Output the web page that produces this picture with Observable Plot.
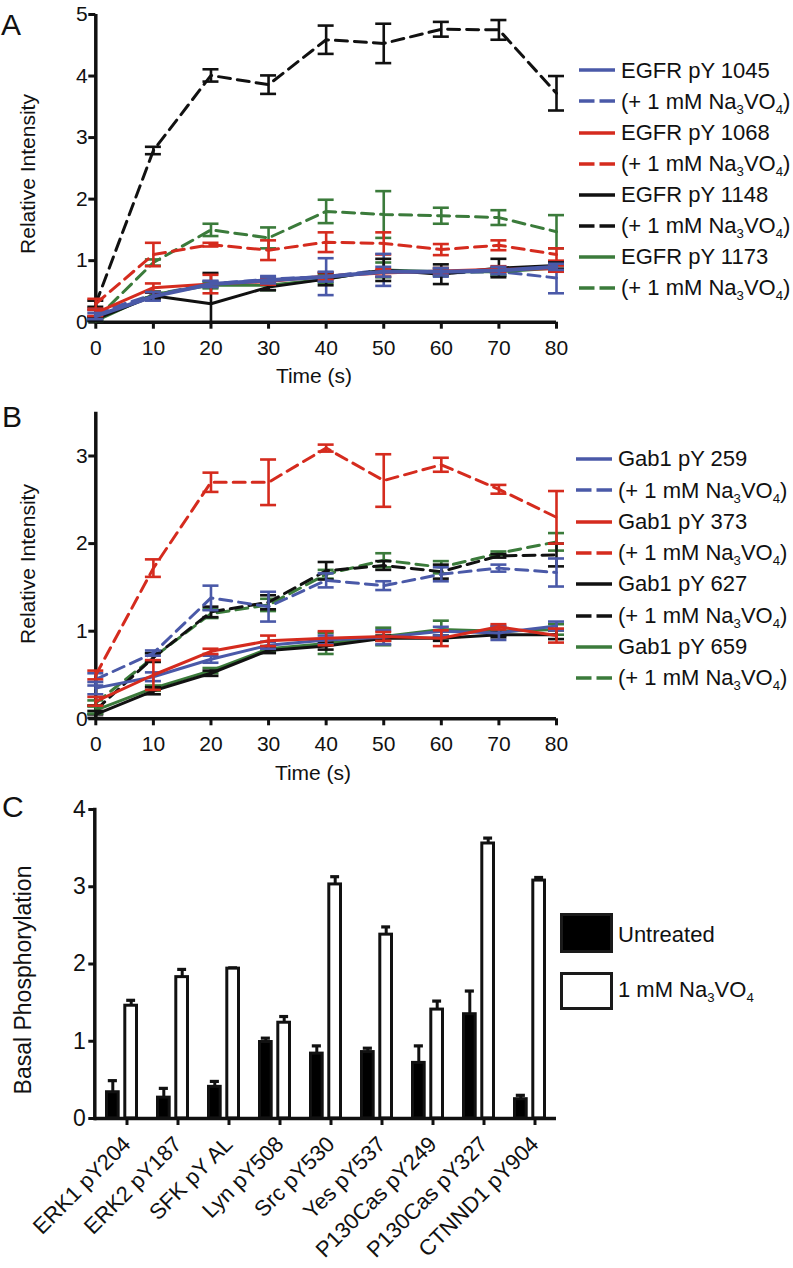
<!DOCTYPE html>
<html><head><meta charset="utf-8">
<script src="https://cdn.jsdelivr.net/npm/d3@7"></script>
<script src="https://cdn.jsdelivr.net/npm/@observablehq/plot@0.6"></script>
<style>
html,body{margin:0;padding:0;background:#fff;}
#fig{position:relative;width:793px;height:1268px;overflow:hidden;font-family:"Liberation Sans",Arial,Helvetica,sans-serif;color:#111;}
.abs{position:absolute;white-space:nowrap;}
sub{font-size:0.6em;vertical-align:-0.4em;line-height:0;}
</style></head><body><div id="fig"></div>
<script>
const FONT = '"Liberation Sans", Arial, Helvetica, sans-serif';
const fig = document.getElementById("fig");

// ---------- shared ----------
const times = [0, 10, 20, 30, 40, 50, 60, 70, 80];
const yTicksA = [0, 1, 2, 3, 4, 5];
const yTicksB = [0, 1, 2, 3];
const yTicksC = [0, 1, 2, 3, 4];
const colBlue = "#4a59a8", colRed = "#d52b1e", colBlack = "#111111", colGreen = "#3b7b3b";

// ---------- Panel A (EGFR) ----------
const legendA = ["EGFR pY 1045", "(+ 1 mM Na<sub>3</sub>VO<sub>4</sub>)", "EGFR pY 1068", "(+ 1 mM Na<sub>3</sub>VO<sub>4</sub>)",
                 "EGFR pY 1148", "(+ 1 mM Na<sub>3</sub>VO<sub>4</sub>)", "EGFR pY 1173", "(+ 1 mM Na<sub>3</sub>VO<sub>4</sub>)"];
const a1045   = [0.10, 0.42, 0.62, 0.68, 0.74, 0.82, 0.82, 0.84, 0.90];
const a1045e  = [0.05, 0.07, 0.05, 0.05, 0.08, 0.08, 0.06, 0.06, 0.05];
const a1045V  = [0.15, 0.45, 0.62, 0.70, 0.74, 0.85, 0.80, 0.82, 0.72];
const a1045Ve = [0.05, 0.05, 0.05, 0.05, 0.30, 0.26, 0.06, 0.06, 0.25];
const a1068   = [0.15, 0.56, 0.62, 0.66, 0.75, 0.80, 0.83, 0.86, 0.87];
const a1068e  = [0.05, 0.07, 0.15, 0.05, 0.06, 0.06, 0.05, 0.05, 0.05];
const a1068V  = [0.30, 1.10, 1.26, 1.17, 1.30, 1.28, 1.18, 1.25, 1.10];
const a1068Ve = [0.08, 0.19, 0.03, 0.16, 0.16, 0.18, 0.09, 0.08, 0.10];
const a1148   = [0.05, 0.43, 0.30, 0.57, 0.70, 0.85, 0.78, 0.88, 0.92];
const a1148e  = [0.03, 0.05, 0.50, 0.05, 0.10, 0.18, 0.16, 0.15, 0.05];
const a1148V  = [0.30, 2.79, 4.01, 3.86, 4.59, 4.53, 4.76, 4.75, 3.72];
const a1148Ve = [0.05, 0.06, 0.10, 0.15, 0.23, 0.32, 0.12, 0.16, 0.28];
const a1173   = [0.02, 0.45, 0.60, 0.60, 0.70, 0.85, 0.82, 0.82, 0.88];
const a1173e  = [0.02, 0.05, 0.05, 0.08, 0.06, 0.12, 0.06, 0.06, 0.05];
const a1173V  = [0.05, 0.97, 1.50, 1.37, 1.80, 1.75, 1.73, 1.70, 1.47];
const a1173Ve = [0.03, 0.05, 0.10, 0.17, 0.19, 0.38, 0.13, 0.12, 0.27];

// ---------- Panel B (Gab1) ----------
const legendB = ["Gab1 pY 259", "(+ 1 mM Na<sub>3</sub>VO<sub>4</sub>)", "Gab1 pY 373", "(+ 1 mM Na<sub>3</sub>VO<sub>4</sub>)",
                 "Gab1 pY 627", "(+ 1 mM Na<sub>3</sub>VO<sub>4</sub>)", "Gab1 pY 659", "(+ 1 mM Na<sub>3</sub>VO<sub>4</sub>)"];
const b259   = [0.35, 0.48, 0.68, 0.84, 0.90, 0.93, 1.00, 0.98, 1.06];
const b259e  = [0.07, 0.05, 0.04, 0.04, 0.05, 0.08, 0.05, 0.08, 0.05];
const b259V  = [0.45, 0.75, 1.38, 1.28, 1.58, 1.52, 1.65, 1.72, 1.67];
const b259Ve = [0.07, 0.03, 0.14, 0.17, 0.08, 0.05, 0.08, 0.04, 0.16];
const b373   = [0.20, 0.50, 0.77, 0.89, 0.92, 0.94, 0.92, 1.05, 0.95];
const b373e  = [0.05, 0.17, 0.03, 0.06, 0.08, 0.05, 0.09, 0.03, 0.08];
const b373V  = [0.50, 1.72, 2.70, 2.70, 3.09, 2.72, 2.90, 2.62, 2.30];
const b373Ve = [0.05, 0.10, 0.11, 0.26, 0.04, 0.30, 0.08, 0.05, 0.30];
const b627   = [0.05, 0.32, 0.52, 0.78, 0.83, 0.92, 0.92, 0.96, 0.96];
const b627e  = [0.04, 0.04, 0.03, 0.03, 0.04, 0.03, 0.03, 0.03, 0.05];
const b627V  = [0.10, 0.70, 1.22, 1.33, 1.69, 1.75, 1.68, 1.86, 1.87];
const b627Ve = [0.05, 0.05, 0.06, 0.08, 0.10, 0.05, 0.08, 0.02, 0.13];
const b659   = [0.10, 0.35, 0.55, 0.80, 0.86, 0.94, 1.02, 1.00, 1.02];
const b659e  = [0.04, 0.03, 0.03, 0.03, 0.12, 0.10, 0.10, 0.05, 0.06];
const b659V  = [0.18, 0.70, 1.20, 1.30, 1.65, 1.81, 1.73, 1.89, 2.02];
const b659Ve = [0.03, 0.05, 0.05, 0.07, 0.05, 0.08, 0.07, 0.02, 0.10];

// ---------- Panel C (basal) ----------
const cats = ["ERK1 pY204", "ERK2 pY187", "SFK pY AL", "Lyn pY508", "Src pY530", "Yes pY537", "P130Cas pY249", "P130Cas pY327", "CTNND1 pY904"];
const untreated    = [0.34, 0.27, 0.41, 0.99, 0.84, 0.86, 0.72, 1.35, 0.25];
const untreatedErr = [0.15, 0.12, 0.07, 0.05, 0.10, 0.05, 0.22, 0.30, 0.05];
const vanadate     = [1.46, 1.83, 1.94, 1.24, 3.03, 2.38, 1.41, 3.56, 3.08];
const vanadateErr  = [0.07, 0.10, 0.01, 0.08, 0.10, 0.10, 0.11, 0.07, 0.04];
const legendC = ["Untreated", "1 mM Na<sub>3</sub>VO<sub>4</sub>"];

// ---------- helpers ----------
const intFmt = d => String(d);
function rows(vals, errs) { return times.map((t, i) => ({t, v: vals[i], e: errs[i]})); }

function series(vals, errs, color, dashed, lw = 3) {
  const d = rows(vals, errs);
  const lo = d.filter(r => r.v - r.e > 0);
  const ew = 2.6;
  const lineOpts = {x: "t", y: "v", stroke: color, strokeWidth: lw, strokeLinejoin: "round"};
  if (dashed) lineOpts.strokeDasharray = "12,7";
  return [
    Plot.ruleX(d, {x: "t", y1: r => Math.max(0, r.v - r.e), y2: r => r.v + r.e, stroke: color, strokeWidth: ew}),
    Plot.ruleY(d, {x1: "t", x2: "t", y: r => r.v + r.e, stroke: color, strokeWidth: ew, insetLeft: -8, insetRight: -8}),
    Plot.ruleY(lo, {x1: "t", x2: "t", y: r => r.v - r.e, stroke: color, strokeWidth: ew, insetLeft: -8, insetRight: -8}),
    Plot.line(d, lineOpts)
  ];
}

function place(svg, left, top) {
  svg.style.position = "absolute";
  svg.style.left = left + "px";
  svg.style.top = top + "px";
  svg.style.maxWidth = "none";
  fig.appendChild(svg);
}

function text(html, x, baseline, size, opts = {}) {
  const el = document.createElement("div");
  el.className = "abs";
  el.innerHTML = html;
  el.style.fontSize = size + "px";
  el.style.lineHeight = size + "px";
  el.style.left = x + "px";
  el.style.top = (baseline - 0.8465 * size) + "px";
  if (opts.center) el.style.transform = "translateX(-50%)";
  fig.appendChild(el);
  return el;
}

function vtext(html, cx, cy, size) {
  const el = document.createElement("div");
  el.className = "abs";
  el.innerHTML = html;
  el.style.fontSize = size + "px";
  el.style.lineHeight = size + "px";
  el.style.left = cx + "px";
  el.style.top = cy + "px";
  el.style.transform = "translate(-50%,-50%) rotate(-90deg)";
  fig.appendChild(el);
}

function lineLegend(labels, colors, yStart, step, lx1, lx2, tx, size) {
  labels.forEach((lab, i) => {
    const yc = yStart + i * step;
    const dashed = i % 2 === 1;
    const color = colors[Math.floor(i / 2)];
    const w = lx2 - lx1;
    const s = document.createElementNS("http://www.w3.org/2000/svg", "svg");
    s.setAttribute("width", w); s.setAttribute("height", 8);
    s.style.position = "absolute"; s.style.left = lx1 + "px"; s.style.top = (yc - 4) + "px";
    s.innerHTML = `<line x1="0" x2="${w}" y1="4" y2="4" stroke="${color}" stroke-width="3.5" ${dashed ? 'stroke-dasharray="15.5,5"' : ''}/>`;
    fig.appendChild(s);
    const el = document.createElement("div");
    el.className = "abs";
    el.innerHTML = lab;
    el.style.fontSize = size + "px";
    el.style.lineHeight = size + "px";
    el.style.left = tx + "px";
    el.style.top = (yc - 0.488 * size) + "px";
    fig.appendChild(el);
  });
}

const baseStyle = {fontFamily: FONT, fontSize: "21px", color: "#111", overflow: "visible", background: "transparent"};

// ---------- Panel A plot ----------
const plotA = Plot.plot({
  width: 575, height: 400,
  marginLeft: 95.3, marginRight: 19, marginTop: 14, marginBottom: 78.3,
  x: {domain: [0, 80]},
  y: {domain: [0, 5]},
  style: baseStyle,
  marks: [
    Plot.axisX({ticks: times, tickFormat: intFmt, tickSize: 7, tickPadding: 11, label: null, strokeWidth: 3, fontSize: 21}),
    Plot.axisY({ticks: yTicksA, tickFormat: intFmt, tickSize: 7, tickPadding: 1, label: null, strokeWidth: 3, fontSize: 21}),
    Plot.ruleY([0], {stroke: "#111", strokeWidth: 3.5}),
    Plot.ruleX([0], {stroke: "#111", strokeWidth: 3.5}),
    ...series(a1148V, a1148Ve, colBlack, true),
    ...series(a1173V, a1173Ve, colGreen, true),
    ...series(a1068V, a1068Ve, colRed, true),
    ...series(a1045V, a1045Ve, colBlue, true),
    ...series(a1173, a1173e, colGreen, false),
    ...series(a1148, a1148e, colBlack, false),
    ...series(a1068, a1068e, colRed, false),
    ...series(a1045, a1045e, colBlue, false, 4)
  ]
});
place(plotA, 0, 0);

// ---------- Panel B plot ----------
const plotB = Plot.plot({
  width: 575, height: 400,
  marginLeft: 95.3, marginRight: 19, marginTop: 21.7, marginBottom: 71.7,
  x: {domain: [0, 80]},
  y: {domain: [0, 3.5]},
  style: baseStyle,
  marks: [
    Plot.axisX({ticks: times, tickFormat: intFmt, tickSize: 7, tickPadding: 10, label: null, strokeWidth: 3, fontSize: 21}),
    Plot.axisY({ticks: yTicksB, tickFormat: intFmt, tickSize: 7, tickPadding: 1, label: null, strokeWidth: 3, fontSize: 21}),
    Plot.ruleY([0], {stroke: "#111", strokeWidth: 3.5}),
    Plot.ruleX([0], {stroke: "#111", strokeWidth: 3.5}),
    ...series(b659V, b659Ve, colGreen, true),
    ...series(b627V, b627Ve, colBlack, true),
    ...series(b259V, b259Ve, colBlue, true),
    ...series(b373V, b373Ve, colRed, true),
    ...series(b659, b659e, colGreen, false),
    ...series(b627, b627e, colBlack, false),
    ...series(b259, b259e, colBlue, false),
    ...series(b373, b373e, colRed, false)
  ]
});
place(plotB, 0, 390);

// ---------- Panel C plot ----------
const rowsC = cats.map((c, i) => ({c, u: untreated[i], ue: untreatedErr[i], w: vanadate[i], we: vanadateErr[i]}));
const plotC = Plot.plot({
  width: 570, height: 488,
  marginLeft: 94.3, marginRight: 14, marginTop: 29, marginBottom: 150,
  x: {type: "band", domain: cats, padding: 0},
  y: {domain: [0, 4]},
  style: {...baseStyle, fontSize: "22px"},
  marks: [
    Plot.ruleX(rowsC, {x: "c", y1: "u", y2: d => d.u + d.ue, dx: -9.2, stroke: "#111", strokeWidth: 3}),
    Plot.tickY(rowsC, {x: "c", y: d => d.u + d.ue, insetLeft: 11.8, insetRight: 30.1, stroke: "#111", strokeWidth: 3.2}),
    Plot.ruleX(rowsC, {x: "c", y1: "w", y2: d => d.w + d.we, dx: 9.2, stroke: "#111", strokeWidth: 3}),
    Plot.tickY(rowsC, {x: "c", y: d => d.w + d.we, insetLeft: 30.2, insetRight: 11.9, stroke: "#111", strokeWidth: 3.2}),
    Plot.barY(rowsC, {x: "c", y: "u", fill: "#000", stroke: "#111", strokeWidth: 3, insetLeft: 10.5, insetRight: 28.8}),
    Plot.barY(rowsC, {x: "c", y: "w", fill: "#fff", stroke: "#111", strokeWidth: 3, insetLeft: 28.8, insetRight: 10.5}),
    Plot.axisX({tickSize: 7, tickPadding: 15, dx: 5, tickRotate: -45, label: null, strokeWidth: 3, fontSize: 22}),
    Plot.axisY({ticks: yTicksC, tickFormat: intFmt, tickSize: 6, tickPadding: 3, label: null, strokeWidth: 3, fontSize: 23}),
    Plot.ruleY([0], {stroke: "#111", strokeWidth: 3.5}),
    Plot.frame({anchor: "left", stroke: "#111", strokeWidth: 3.5})
  ]
});
place(plotC, 0, 780);

// ---------- texts ----------
text("A", 1, 35, 30);
text("B", 2, 427, 30);
text("C", 2, 817, 30);
text("Time (s)", 314, 383, 21, {center: true});
text("Time (s)", 313, 780, 21, {center: true});
vtext("Relative Intensity", 26.7, 174, 21);
vtext("Relative Intensity", 26.7, 564, 21);
vtext("Basal Phosphorylation", 23, 980, 23);

// ---------- legends ----------
lineLegend(legendA, [colBlue, colRed, colBlack, colGreen], 70.3, 31.1, 579, 615, 621, 22);
lineLegend(legendB, [colBlue, colRed, colBlack, colGreen], 459, 31.3, 576, 612, 618, 22);

function boxLegend(label, fill, top, h, yc) {
  const b = document.createElement("div");
  b.className = "abs";
  Object.assign(b.style, {left: "560px", top: top + "px", width: "53px", height: h + "px", background: fill,
    border: "3px solid #1a1a1a", boxSizing: "border-box"});
  fig.appendChild(b);
  const el = document.createElement("div");
  el.className = "abs";
  el.innerHTML = label;
  el.style.fontSize = "22px"; el.style.lineHeight = "22px";
  el.style.left = "618px"; el.style.top = (yc - 0.488 * 22) + "px";
  fig.appendChild(el);
}
boxLegend(legendC[0], "#000", 913, 40, 935);
boxLegend(legendC[1], "#fff", 972, 38, 990);
</script></body></html>
